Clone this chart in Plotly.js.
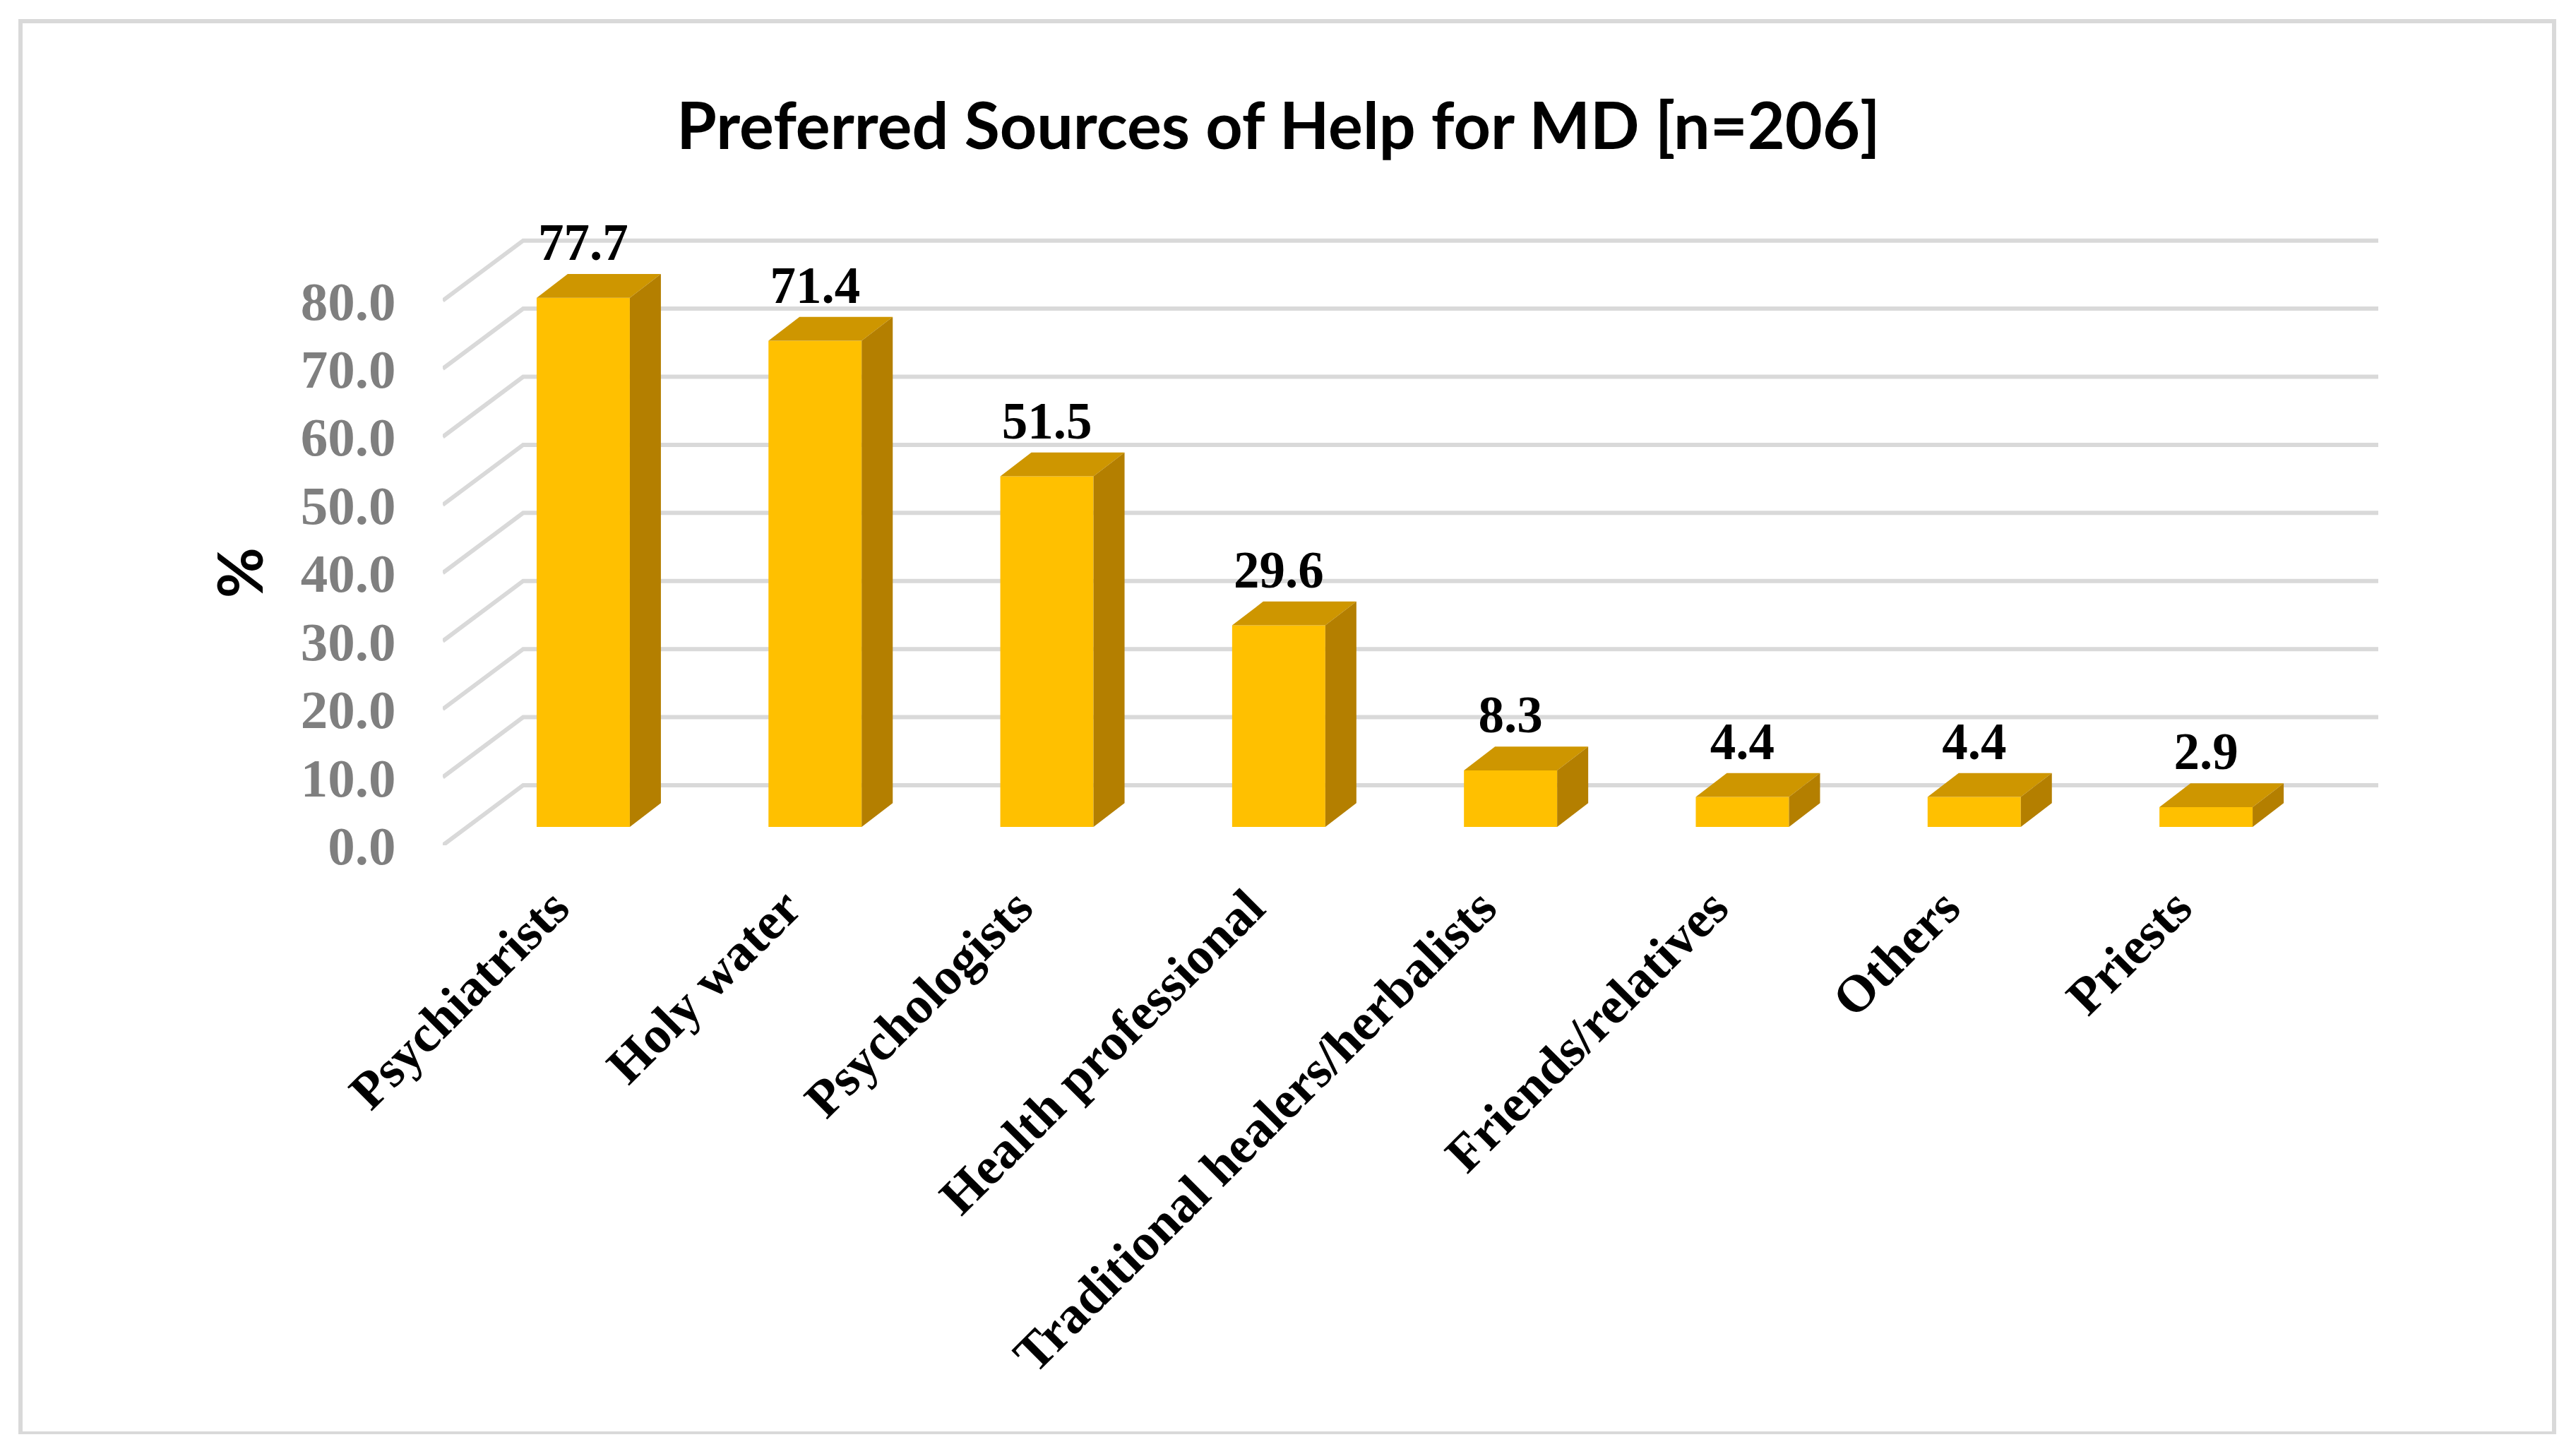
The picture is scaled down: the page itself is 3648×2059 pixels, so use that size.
<!DOCTYPE html>
<html><head><meta charset="utf-8">
<script src="https://cdn.plot.ly/plotly-3.0.1.min.js"></script>
<style>html,body{margin:0;padding:0;background:#fff}#c{width:3648px;height:2059px}</style>
</head><body><div id="c"></div>
<script>
const categories = ["Psychiatrists","Holy water","Psychologists","Health professional","Traditional healers/herbalists","Friends/relatives","Others","Priests"];
const values = [77.7,71.4,51.5,29.6,8.3,4.4,4.4,2.9];
const yTicks = [0,10,20,30,40,50,60,70,80];
const yTickLabels = ["0.0","10.0","20.0","30.0","40.0","50.0","60.0","70.0","80.0"];

// pseudo-3D projection, in axis units
const W=3648,H=2059,mL=627,mR=280,mT=310,mB=862;
const xRange=[-0.606,7.743], yRange=[0,92];
const barWidth=0.402, barFloor=2.7, barDX=0.134, barDY=3.5, wallDX=0.347, wallDY=8.82, labelShift=0.128, valueLift=0.2;
const xs=categories.map((_,i)=>i);
const tops=values.map(v=>v+barFloor);

function faces(fn){const X=[],Y=[];xs.forEach((x,i)=>{fn(x,tops[i]).forEach(p=>{X.push(p[0]);Y.push(p[1]);});X.push(null);Y.push(null);});return {X,Y};}
const hw=barWidth/2;
const topFace=faces((x,t)=>[[x-hw,t],[x+hw,t],[x+hw+barDX,t+barDY],[x-hw+barDX,t+barDY],[x-hw,t]]);
const sideFace=faces((x,t)=>[[x+hw,barFloor],[x+hw,t],[x+hw+barDX,t+barDY],[x+hw+barDX,barFloor+barDY],[x+hw,barFloor]]);

const traces=[
 {type:'bar',x:xs,y:values,base:barFloor,width:barWidth,marker:{color:'#FFC000',line:{width:0}},hoverinfo:'skip',showlegend:false},
 {type:'scatter',mode:'lines',x:topFace.X,y:topFace.Y,fill:'toself',fillcolor:'#CE9600',line:{width:0},hoverinfo:'skip',showlegend:false},
 {type:'scatter',mode:'lines',x:sideFace.X,y:sideFace.Y,fill:'toself',fillcolor:'#B47F00',line:{width:0},hoverinfo:'skip',showlegend:false},
 {type:'scatter',mode:'text',x:xs,y:tops.map(t=>t+barDY+valueLift),text:values.map(v=>v.toFixed(1)),textposition:'top center',cliponaxis:false,
  textfont:{family:'"Liberation Serif"',size:73,color:'#000',weight:700},hoverinfo:'skip',showlegend:false}
];

const gridShapes=yTicks.map(t=>({type:'path',layer:'below',xref:'x',yref:'y',
  path:`M${xRange[0]},${t} L${xRange[0]+wallDX},${t+wallDY} L${xRange[1]},${t+wallDY}`,
  line:{color:'#D9D9D9',width:6},fillcolor:'rgba(0,0,0,0)'}));

const px=x=>(x-mL)/(W-mL-mR), py=y=>1-(y-mT)/(H-mT-mB);
const frame=[[26,30,3620,30,6],[29,27,29,2031,6],[3617,27,3617,2031,6],[26,2029,3620,2029,4]].map(a=>({type:'line',layer:'below',xref:'paper',yref:'paper',
  x0:px(a[0]),y0:py(a[1]),x1:px(a[2]),y1:py(a[3]),line:{color:'#D9D9D9',width:a[4]}}));

const layout={
 width:W,height:H,margin:{l:mL,r:mR,t:mT,b:mB,pad:0},paper_bgcolor:'#fff',plot_bgcolor:'rgba(0,0,0,0)',showlegend:false,
 title:{text:'<b>Preferred Sources of Help for MD [n=206]</b>',x:(961+2660)/2/W,xanchor:'center',y:1-179/H,yanchor:'middle',
   font:{family:'Lato',size:91.5,color:'#000'}},
 xaxis:{range:xRange,showgrid:false,zeroline:false,showline:false,tickmode:'array',tickvals:xs.map(x=>x-labelShift),ticktext:categories,tickangle:-45,
   ticks:'outside',ticklen:14,tickcolor:'rgba(0,0,0,0)',automargin:false,
   tickfont:{family:'"Liberation Serif"',size:74,color:'#000',weight:700}},
 yaxis:{range:yRange,showgrid:false,zeroline:false,showline:false,tickmode:'array',tickvals:yTicks,ticktext:yTickLabels,
   ticks:'outside',ticklen:50,tickcolor:'rgba(0,0,0,0)',automargin:false,
   tickfont:{family:'"Liberation Serif"',size:77,color:'#7F7F7F',weight:700}},
 annotations:[{text:'<b>%</b>',xref:'paper',yref:'y',x:px(338),y:40,xanchor:'center',yanchor:'middle',textangle:-90,showarrow:false,
   font:{family:'Lato',size:88,color:'#000'}}],
 shapes:gridShapes.concat(frame)
};
Plotly.newPlot('c',traces,layout,{displayModeBar:false,responsive:false});
</script></body></html>
